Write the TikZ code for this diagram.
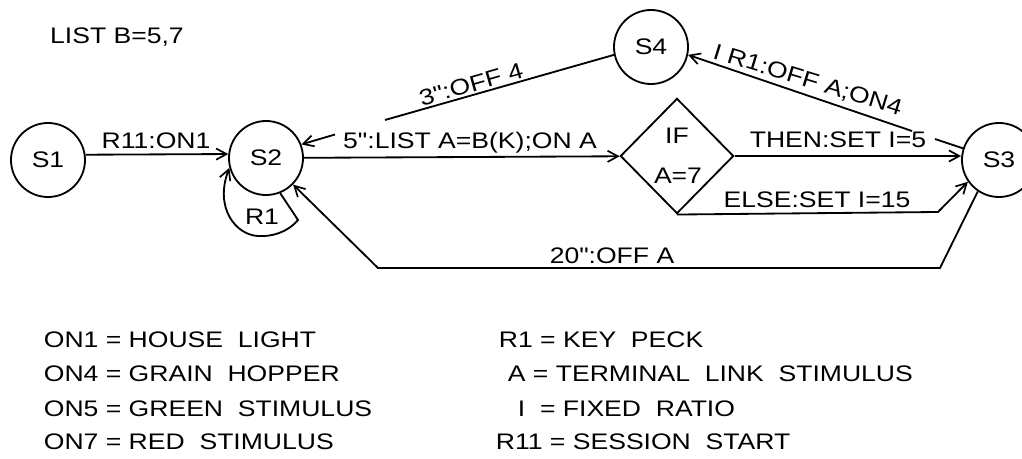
\documentclass[tikz,border=0pt]{standalone}
\usepackage{fontspec}
\setmainfont{Liberation Sans}[FakeStretch=1.18,Ligatures=TeXOff]
\usetikzlibrary{arrows.meta,shapes.geometric}
\newcommand\fs{\fontsize{16}{19}\selectfont}
\tikzset{
  state/.style={circle,draw,minimum size=1.85cm,inner sep=0pt,font=\fs},
  lab/.style={inner sep=0pt,font=\fs,text height=11.46pt,text depth=0pt},
  decision/.style={diamond,draw,minimum width=2.83cm,minimum height=2.88cm,inner sep=0pt},
  conn/.style={line width=1.3pt},
  arr/.style={conn,-{Straight Barb[length=2.6mm,width=2.8mm,line width=1.2pt]}}
}
\begin{document}
\begin{tikzpicture}[x=0.025cm,y=-0.025cm,line width=1.3pt]
\useasboundingbox (0,0) rectangle (1022,459);
\clip (0,0) rectangle (1022,459);
\node[lab] (listb) at (117,35) {LIST B=5,7};
\node[state] (s1) at (48,160) {S1};
\node[state] (s2) at (266,158) {S2};
\node[state] (s4) at (651,47) {S4};
\node[state] (s3) at (999,160) {S3};
\node[decision] (dia) at (677,156) {};
\node[lab] (if) at (677,135) {IF};
\node[lab] (a7) at (678,175) {A=7};
% connectors
\draw[arr] (s1.8) -- (s2.174);
\draw[arr] (s2) -- (dia);
\draw[arr] (dia.east) -- (dia.east -| s3.west);
\coordinate (eb) at (938,212);
\draw[arr] (dia.south) -- (eb) -- (s3.215);
\coordinate (g1) at (385,120);
\coordinate (g2) at (335,134.5);
\draw[conn] (s4.192) -- (g1);
\draw[arr] (g2) -- (s2.21);
\coordinate (g3) at (935,139);
\coordinate (g4) at (912,131);
\draw[conn] (s3.162) -- (g3);
\draw[arr] (g4) -- (s4.-12);
\coordinate (b1) at (940,268);
\coordinate (b2) at (378,268);
\draw[arr] (s3.236) -- (b1) -- (b2) -- (s2);
\coordinate (lp) at (298,220);
\draw[arr] (s2.-68) -- (lp) .. controls (288,232) and (272,237) .. (258,236) .. controls (236,235) and (214,208) .. (s2.195);
% labels
\node[lab] (l1) at (156,140) {R11:ON1};
\node[lab] (l2) at (262,216) {R1};
\node[lab] (l3) at (470,140) {5":LIST A=B(K);ON A};
\node[lab,rotate=16] (l4) at (471,84) {3":OFF 4};
\node[lab,rotate=-17] (l5) at (808,79) {I R1:OFF A;ON4};
\node[lab] (l6) at (838,139) {THEN:SET I=5};
\node[lab] (l7) at (817,199) {ELSE:SET I=15};
\node[lab] (l8) at (612,255) {20":OFF A};
% legend
\node[lab,anchor=west] (k1) at (43,339) {ON1 = HOUSE\ \ LIGHT};
\node[lab,anchor=west] (k2) at (43,373) {ON4 = GRAIN\ \ HOPPER};
\node[lab,anchor=west] (k3) at (43,408) {ON5 = GREEN\ \ STIMULUS};
\node[lab,anchor=west] (k4) at (43,441) {ON7 = RED\ \ STIMULUS};
\node[lab,anchor=west] (k5) at (498,339) {R1 = KEY\ \ PECK};
\node[lab,anchor=west] (k6) at (507,373) {A = TERMINAL\ \ LINK\ \ STIMULUS};
\node[lab,anchor=west] (k7) at (517,408) {I\ \ = FIXED\ \ RATIO};
\node[lab,anchor=west] (k8) at (495,441) {R11 = SESSION\ \ START};
\end{tikzpicture}
\end{document}
